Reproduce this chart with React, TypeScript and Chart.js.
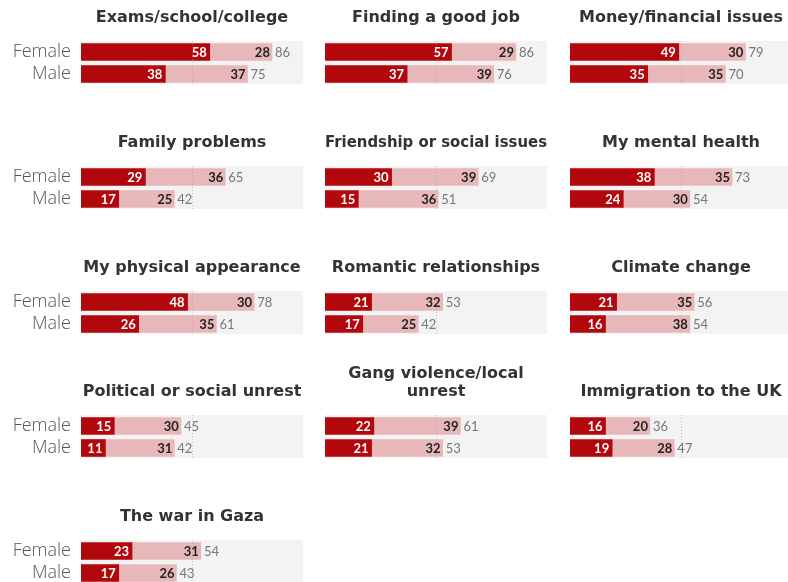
import React, { useEffect, useRef } from "react";
import { Chart, registerables } from "chart.js";

Chart.register(...registerables);

// ---- data ----
const topics = [
  "Exams/school/college",
  "Finding a good job",
  "Money/financial issues",
  "Family problems",
  "Friendship or social issues",
  "My mental health",
  "My physical appearance",
  "Romantic relationships",
  "Climate change",
  "Political or social unrest",
  "Gang violence/local\nunrest",
  "Immigration to the UK",
  "The war in Gaza",
];
const rowLabels = ["Female", "Male"];
const femaleMain = [58, 57, 49, 29, 30, 38, 48, 21, 21, 15, 22, 16, 23];
const femaleExtra = [28, 29, 30, 36, 39, 35, 30, 32, 35, 30, 39, 20, 31];
const femaleTotal = [86, 86, 79, 65, 69, 73, 78, 53, 56, 45, 61, 36, 54];
const maleMain = [38, 37, 35, 17, 15, 24, 26, 17, 16, 11, 21, 19, 17];
const maleExtra = [37, 39, 35, 25, 36, 30, 35, 25, 38, 31, 32, 28, 26];
const maleTotal = [75, 76, 70, 42, 51, 54, 61, 42, 54, 42, 53, 47, 43];
const axisMax = 100;
const refLine = 50;

// ---- styling ----
const DARK = "#b2070c";
const LIGHT = "#e7b7ba";
const BG = "#f3f3f3";
const COL_LEFT = [81, 325, 570];
const AREA_W = 222;
const ROW_STEP = 124.8;
const TITLE_LINE = 18;

const bgPlugin = {
  id: "panelBg",
  beforeDatasetsDraw(chart: any) {
    const { ctx, chartArea } = chart;
    const x = chart.scales.x;
    const x0 = x.getPixelForValue(0);
    const x1 = x.getPixelForValue(axisMax);
    ctx.save();
    ctx.fillStyle = BG;
    ctx.fillRect(x0, chartArea.top, x1 - x0, chartArea.bottom - chartArea.top - 1);
    ctx.restore();
  },
};

const refPlugin = {
  id: "refLine",
  afterDatasetsDraw(chart: any) {
    const { ctx, chartArea } = chart;
    const px = Math.round(chart.scales.x.getPixelForValue(refLine)) + 0.5;
    ctx.save();
    ctx.strokeStyle = "rgba(150,150,150,0.5)";
    ctx.lineWidth = 1;
    ctx.setLineDash([1, 2]);
    ctx.beginPath();
    ctx.moveTo(px, chartArea.top);
    ctx.lineTo(px, chartArea.bottom - 1);
    ctx.stroke();
    ctx.restore();
  },
};

const labelPlugin = {
  id: "barLabels",
  afterDatasetsDraw(chart: any) {
    const { ctx } = chart;
    const totals: number[] = chart.options.plugins.barLabels.totals;
    ctx.save();
    ctx.textBaseline = "middle";
    const m0 = chart.getDatasetMeta(0);
    const m1 = chart.getDatasetMeta(1);
    const d0 = chart.data.datasets[0].data;
    const d1 = chart.data.datasets[1].data;
    m0.data.forEach((el: any, i: number) => {
      ctx.font = "bold 13px Lato";
      ctx.fillStyle = "#ffffff";
      ctx.textAlign = "right";
      ctx.fillText(String(d0[i]), el.x - 3, el.y + 1);
    });
    m1.data.forEach((el: any, i: number) => {
      ctx.font = "bold 13px Lato";
      ctx.fillStyle = "#222222";
      ctx.textAlign = "right";
      ctx.fillText(String(d1[i]), el.x - 2, el.y + 1);
      ctx.font = "13px Lato";
      ctx.fillStyle = "#777777";
      ctx.textAlign = "left";
      ctx.fillText(String(totals[i]), el.x + 3, el.y + 1);
    });
    ctx.restore();
  },
};

function Panel({ idx }: { idx: number }) {
  const ref = useRef<HTMLCanvasElement>(null);
  const col = idx % 3;
  const row = Math.floor(idx / 3);
  const lines = topics[idx].split("\n");
  const extra = (lines.length - 1) * TITLE_LINE;
  const left = col === 0 ? 0 : COL_LEFT[col];
  const width = (col === 0 ? COL_LEFT[0] : 0) + AREA_W;
  const top = Math.round(ROW_STEP * row) - extra;
  const height = 85 + extra;

  useEffect(() => {
    const yScale: any = {
      stacked: true,
      display: col === 0,
      grid: { display: false, drawTicks: false },
      border: { display: false },
      ticks: {
        padding: 10,
        autoSkip: false,
        color: "#555555",
        font: { family: "'Open Sans'", size: 18, weight: "300" },
      },
    };
    if (col === 0) {
      yScale.afterFit = (s: any) => {
        s.width = COL_LEFT[0];
        s.paddingTop = 0;
        s.paddingBottom = 0;
      };
    }
    const chart = new Chart(ref.current as HTMLCanvasElement, {
      type: "bar",
      data: {
        labels: rowLabels,
        datasets: [
          {
            data: [femaleMain[idx], maleMain[idx]],
            backgroundColor: DARK,
            barThickness: 17,
          },
          {
            data: [femaleExtra[idx], maleExtra[idx]],
            backgroundColor: LIGHT,
            barThickness: 17,
          },
        ],
      },
      options: {
        indexAxis: "y",
        responsive: false,
        animation: false,
        layout: { padding: 0 },
        scales: {
          x: { stacked: true, min: 0, max: axisMax, display: false },
          y: yScale,
        },
        plugins: {
          legend: { display: false },
          tooltip: { enabled: false },
          title: {
            display: true,
            text: lines,
            fullSize: false,
            color: "#333333",
            font: { family: "'DejaVu Sans'", size: 16, weight: "bold", lineHeight: "18px" as any },
            padding: { top: 9, bottom: 14 },
          },
          barLabels: { totals: [femaleTotal[idx], maleTotal[idx]] },
        } as any,
      },
      plugins: [bgPlugin, refPlugin, labelPlugin],
    });
    return () => chart.destroy();
  }, []);

  return (
    <div style={{ position: "absolute", left, top, width, height }}>
      <canvas ref={ref} width={width} height={height} style={{ width, height, display: "block" }} />
    </div>
  );
}

export default function App() {
  return (
    <div
      style={{
        position: "absolute",
        left: 0,
        top: 0,
        width: 788,
        height: 582,
        overflow: "hidden",
        background: "#ffffff",
      }}
    >
      {topics.map((_, i) => (
        <Panel key={i} idx={i} />
      ))}
    </div>
  );
}
